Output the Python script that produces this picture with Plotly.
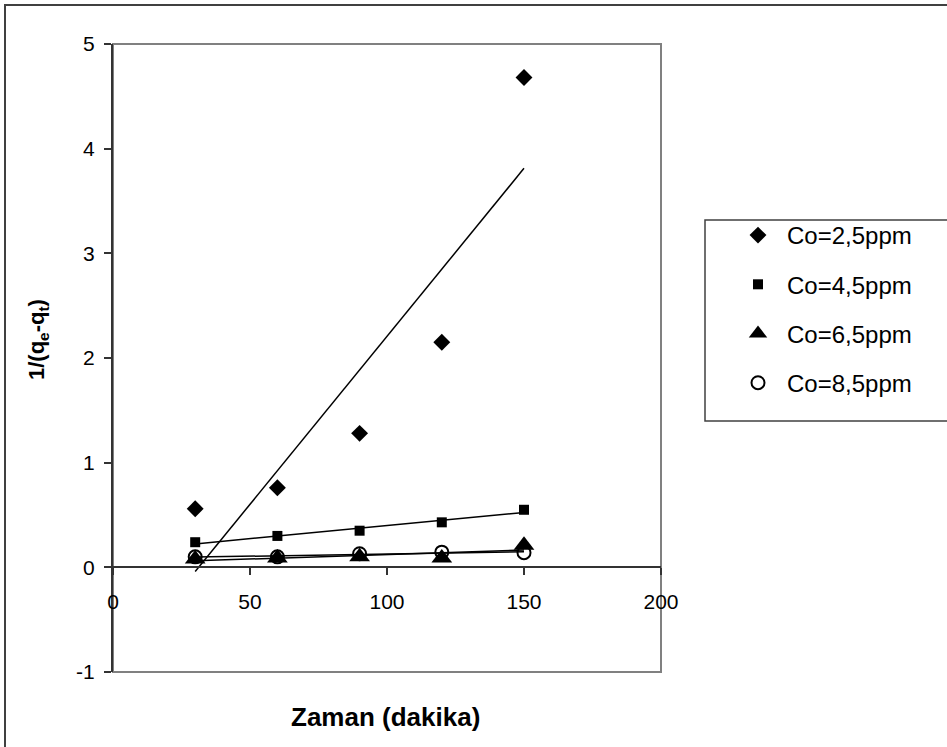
import numpy as np
import plotly.graph_objects as go

# ---------------- data ----------------
time_min = [30, 60, 90, 120, 150]
series_names = ["Co=2,5ppm", "Co=4,5ppm", "Co=6,5ppm", "Co=8,5ppm"]
co_2_5 = [0.56, 0.76, 1.28, 2.15, 4.68]
co_4_5 = [0.24, 0.30, 0.35, 0.43, 0.55]
co_6_5 = [0.08, 0.09, 0.10, 0.09, 0.21]
co_8_5 = [0.10, 0.10, 0.13, 0.145, 0.14]
x_ticks = [0, 50, 100, 150, 200]
y_ticks = [-1, 0, 1, 2, 3, 4, 5]

series_values = [co_2_5, co_4_5, co_6_5, co_8_5]
symbols = ["diamond", "square", "triangle-up", "circle-open"]
sizes = [13, 10, 18, 13]

# plot-area geometry in pixels (for layout conversion)
W, H = 947, 747
L, R, T, B = 113, 661, 44, 672
def px(xp):
    return (xp - L) / (R - L)
def py(yp):
    return (B - yp) / (B - T)

FONT = "Liberation Sans, Arial, sans-serif"

fig = go.Figure()

# trendlines (linear least squares from the data)
for vals in series_values:
    slope, intercept = np.polyfit(time_min, vals, 1)
    xs = [time_min[0], time_min[-1]]
    ys = [slope * x + intercept for x in xs]
    fig.add_trace(go.Scatter(x=xs, y=ys, mode="lines",
                             line=dict(color="black", width=1.5),
                             showlegend=False, hoverinfo="skip"))

for i, (name, vals) in enumerate(zip(series_names, series_values)):
    line = dict(color="black", width=2) if symbols[i] == "circle-open" else dict(width=0)
    fig.add_trace(go.Scatter(
        x=time_min, y=vals, mode="markers", name=name,
        legendgroup=name,
        marker=dict(symbol=symbols[i], size=sizes[i], color="black", line=line),
        cliponaxis=False,
    ))

shapes = [
    # outer chart border
    dict(type="rect", xref="paper", yref="paper",
         x0=px(5), x1=px(970), y0=py(770), y1=py(5),
         line=dict(color="#404040", width=2), layer="below"),
    # plot area border
    dict(type="rect", xref="paper", yref="paper",
         x0=0, x1=1, y0=0, y1=1,
         line=dict(color="#808080", width=2), layer="below"),
    # legend box
    dict(type="rect", xref="paper", yref="paper",
         x0=px(705), x1=px(970), y0=py(421), y1=py(220),
         line=dict(color="#404040", width=1.5), layer="below"),
]

annotations = [
    dict(text="<b>Zaman (dakika)</b>", xref="paper", yref="paper",
         x=px(385), y=py(717), showarrow=False,
         font=dict(family=FONT, size=26, color="black"),
         xanchor="center", yanchor="middle"),
    dict(text="<b>1/(q<sub>e</sub>-q<sub>t</sub>)</b>", xref="paper", yref="paper",
         x=px(38), y=py(340), showarrow=False, textangle=-90,
         font=dict(family=FONT, size=22, color="black"),
         xanchor="center", yanchor="middle"),
]

fig.update_layout(
    width=W, height=H,
    margin=dict(l=L, r=W - R, t=T, b=H - B, pad=0),
    paper_bgcolor="white", plot_bgcolor="white",
    font=dict(family=FONT, size=20, color="black"),
    showlegend=True,
    legend=dict(x=px(729), y=py(213), xanchor="left", yanchor="top",
                font=dict(family=FONT, size=24, color="black"),
                bgcolor="rgba(0,0,0,0)", borderwidth=0,
                tracegroupgap=15, itemwidth=48, itemsizing="trace"),
    shapes=shapes, annotations=annotations,
    xaxis=dict(range=[0, 200], tickvals=x_ticks, ticktext=[str(v) for v in x_ticks],
               showgrid=False, zeroline=False, showline=True,
               linecolor="#333333", linewidth=1.5,
               ticks="outside", ticklen=7, tickcolor="#333333", tickwidth=1.5,
               anchor="free", position=py(567), ticklabelstandoff=9,
               tickfont=dict(family=FONT, size=21, color="black")),
    yaxis=dict(range=[-1, 5], tickvals=y_ticks, ticktext=[str(v) for v in y_ticks],
               showgrid=False, zeroline=False, showline=True,
               linecolor="#333333", linewidth=2,
               ticks="outside", ticklen=7, tickcolor="#333333", tickwidth=1.5,
               ticklabelstandoff=5,
               tickfont=dict(family=FONT, size=21, color="black")),
)

fig.write_html("out.html")
